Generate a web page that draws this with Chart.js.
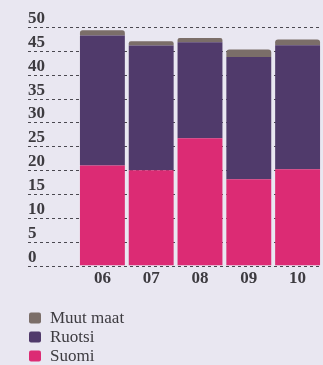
<!DOCTYPE html>
<html lang="fi">
<head>
<meta charset="UTF-8">
<title>Myynti maittain</title>
<script src="https://cdn.jsdelivr.net/npm/chart.js"></script>
<style>
  html, body { margin: 0; padding: 0; background: #e9e7f1; }
  #wrap { position: relative; width: 323px; height: 365px; }
</style>
</head>
<body>
<div id="wrap"><canvas id="chart"></canvas></div>
<script>
const years = ['06', '07', '08', '09', '10'];
const suomi = [21.0, 20.0, 26.7, 18.1, 20.2];
const ruotsi = [27.2, 26.1, 20.1, 25.6, 26.0];
const muut = [1.1, 0.9, 0.9, 1.6, 1.2];
const yTicks = [0, 5, 10, 15, 20, 25, 30, 35, 40, 45, 50];

const textColor = '#3d3b40';
const serif = '"Liberation Serif", "DejaVu Serif", serif';

// dashed grid + labels sitting above each line, starting at the far left
const gridPlugin = {
  id: 'grid',
  beforeDatasetsDraw(chart) {
    const { ctx, chartArea, scales } = chart;
    ctx.save();
    ctx.strokeStyle = '#4a4850';
    ctx.lineWidth = 1;
    ctx.setLineDash([3, 3]);
    ctx.fillStyle = textColor;
    ctx.font = 'bold 17px ' + serif;
    ctx.textBaseline = 'alphabetic';
    yTicks.forEach(v => {
      const y = Math.round(scales.y.getPixelForValue(v)) + 0.5;
      ctx.beginPath();
      ctx.moveTo(28, y);
      ctx.lineTo(chartArea.right, y);
      ctx.stroke();
      ctx.fillText(String(v), 28, y - 5);
    });
    ctx.restore();
  }
};

// vertical legend under the plot, top series first
const legendPlugin = {
  id: 'vlegend',
  afterDraw(chart) {
    const { ctx } = chart;
    const sets = chart.data.datasets.slice().reverse();
    ctx.save();
    ctx.font = '17px ' + serif;
    ctx.textBaseline = 'middle';
    sets.forEach((ds, i) => {
      const cy = 318 + i * 19;
      ctx.fillStyle = ds.backgroundColor;
      ctx.beginPath();
      ctx.roundRect(29, cy - 5.5, 12, 11, 2);
      ctx.fill();
      ctx.fillStyle = textColor;
      ctx.fillText(ds.label, 50, cy + 1);
    });
    ctx.restore();
  }
};

new Chart(document.getElementById('chart'), {
  type: 'bar',
  data: {
    labels: years,
    datasets: [
      { label: 'Suomi', data: suomi, backgroundColor: '#dc2b74' },
      { label: 'Ruotsi', data: ruotsi, backgroundColor: '#503a6b' },
      { label: 'Muut maat', data: muut, backgroundColor: '#7b6e69',
        borderRadius: { topLeft: 3, topRight: 3 }, borderSkipped: false }
    ]
  },
  options: {
    responsive: true,
    maintainAspectRatio: false,
    animation: false,
    layout: { padding: { left: 78, right: 1, top: 27, bottom: 81 } },
    datasets: { bar: { categoryPercentage: 1, barPercentage: 0.92 } },
    plugins: { legend: { display: false }, tooltip: { enabled: false } },
    scales: {
      x: {
        stacked: true,
        grid: { display: false },
        border: { display: false },
        ticks: { color: textColor, font: { family: serif, size: 17, weight: 'bold' }, padding: -5 }
      },
      y: {
        stacked: true,
        display: false,
        min: 0,
        max: 50
      }
    }
  },
  plugins: [gridPlugin, legendPlugin]
});
</script>
</body>
</html>
